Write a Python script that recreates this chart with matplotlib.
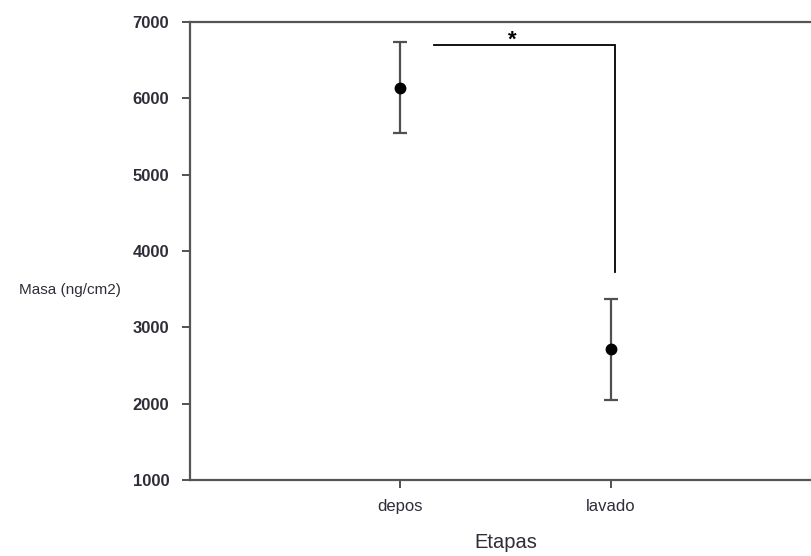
import matplotlib
matplotlib.use("Agg")
import matplotlib.pyplot as plt

plt.rcParams['font.family'] = ['Liberation Sans', 'DejaVu Sans']

# data
etapas = ["depos", "lavado"]
posiciones = [1, 2]
masa = [6140, 2710]
error = [600, 660]

yticks = [1000, 2000, 3000, 4000, 5000, 6000, 7000]

# significance bracket (data coords)
barra_x = [1.16, 2.02, 2.02]
barra_y = [6700, 6700, 3730]
estrella_x = 1.53
estrella_y = 6630

fig = plt.figure(figsize=(8.12, 5.56), dpi=100)
ax = fig.add_axes([190 / 812, 1 - 480 / 556, (821 - 190) / 812, (480 - 22) / 556])

ax.errorbar(posiciones, masa, yerr=error, fmt="o", color="black", ms=7.5,
            ecolor="#505050", elinewidth=1.6, capsize=5, capthick=1.6)

ax.plot(barra_x, barra_y, color="black", lw=1.3, solid_joinstyle="miter")
ax.text(estrella_x, estrella_y, "*", ha="center", va="bottom",
        fontsize=16, fontweight="bold")

ax.set_xlim(0, 3)
ax.set_ylim(1000, 7000)
ax.set_xticks(posiciones)
ax.set_xticklabels(etapas, fontsize=12, color="#2e2e38")
ax.set_yticks(yticks)
ax.set_yticklabels([str(v) for v in yticks], fontsize=12, fontweight="bold",
                   color="#2e2e38")
ax.tick_params(direction="out", length=6, width=1.3, color="#444444")
ax.tick_params(axis="x", pad=8)
ax.tick_params(axis="y", pad=9)

for s in ax.spines.values():
    s.set_linewidth(1.6)
    s.set_color("#555555")
ax.spines["right"].set_visible(False)

ax.set_xlabel("Etapas", fontsize=14.5, color="#2e2e38", labelpad=13)
ax.set_ylabel("Masa (ng/cm2)", fontsize=11, color="#2e2e38", rotation=0,
              ha="center", va="center")
ax.yaxis.set_label_coords(-0.19, 0.415)

fig.savefig("out.png", dpi=100)
